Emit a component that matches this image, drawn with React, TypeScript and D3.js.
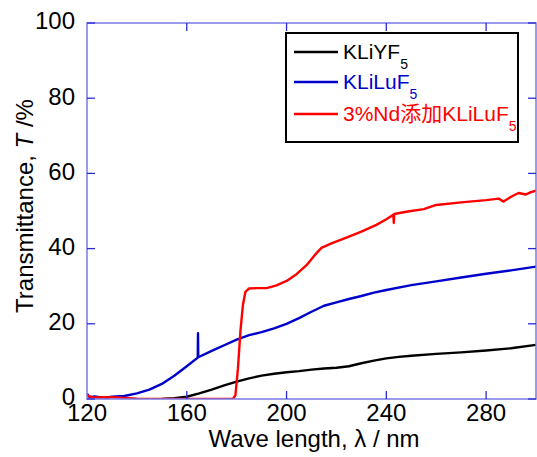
import React from "react"
import * as d3 from "d3"

// wavelength (nm), transmittance (%)
const kliyf: [number, number][] = [
    [150, 0], [155, 0.2], [160, 0.6], [165, 1.5], [170, 2.5], [175, 3.6], [180, 4.6],
    [185, 5.5], [190, 6.2], [195, 6.7], [200, 7.1], [205, 7.4], [210, 7.8], [215, 8.1],
    [220, 8.3], [225, 8.7], [230, 9.5], [235, 10.2], [240, 10.8], [245, 11.2], [250, 11.5],
    [260, 12.0], [270, 12.4], [280, 12.9], [290, 13.5], [300, 14.4]
]

const kliluf: [number, number][] = [
    [120, 1.4], [121, 0.5], [123, 0.7], [125, 0.5], [128, 0.4], [130, 0.6], [135, 0.8],
    [140, 1.5], [145, 2.5], [150, 4.0], [155, 6.2], [160, 8.7], [164.4, 11], [164.5, 17.5],
    [164.6, 11.1], [170, 12.8], [175, 14.3], [180, 15.8], [185, 17.0], [190, 17.8],
    [195, 18.8], [200, 20.0], [205, 21.5], [210, 23.2], [215, 24.8], [220, 25.7],
    [225, 26.6], [230, 27.4], [235, 28.3], [240, 29.0], [250, 30.3], [260, 31.3],
    [270, 32.3], [280, 33.3], [290, 34.2], [300, 35.2]
]

const ndKliluf: [number, number][] = [
    [120, 0.9], [122, 0.5], [125, 0.4], [130, 0.5], [135, 0.3], [140, 0.1], [150, 0],
    [160, 0], [170, 0], [178.5, 0], [179.5, 1], [180.5, 8], [181.5, 18], [182.5, 25],
    [183.5, 28.5], [185, 29.4], [188, 29.5], [192, 29.5], [196, 30.2], [200, 31.4],
    [204, 33.2], [208, 35.6], [212, 38.8], [214, 40.2], [218, 41.4], [224, 42.9],
    [230, 44.5], [236, 46.3], [240, 47.8], [242.8, 49.0], [243, 46.8], [243.2, 49.2],
    [248, 49.8], [255, 50.5], [260, 51.6], [270, 52.3], [280, 52.9], [285, 53.3],
    [287, 52.5], [290, 53.8], [293, 54.8], [296, 54.4], [298, 55.0], [300, 55.4]
]

const xTicks = [120, 160, 200, 240, 280]
const yTicks = [0, 20, 40, 60, 80, 100]

const series = [
    { name: "KLiYF", sub: "5", color: "#000000", data: kliyf },
    { name: "KLiLuF", sub: "5", color: "#0000cc", data: kliluf },
    { name: "3%Nd添加KLiLuF", sub: "5", color: "#ff0000", data: ndKliluf }
]

const font = "'Liberation Sans', Arial, 'Noto Sans CJK JP', sans-serif"

export default function App() {
    const width = 537
    const height = 457
    const left = 87, right = 536, top = 23, bottom = 399

    const x = d3.scaleLinear().domain([120, 300]).range([left, right])
    const y = d3.scaleLinear().domain([0, 100]).range([bottom, top])
    const line = d3.line<[number, number]>()
        .x(d => x(d[0]))
        .y(d => y(d[1]))

    const tickLen = 8
    const tickColor = "#2a2ad6"

    return (
        <svg width={width} height={height}
            style={{ position: "absolute", left: 0, top: 0, background: "#fff" }}
            fontFamily={font}>
            <defs>
                <clipPath id="plot">
                    <rect x={left} y={top - 5} width={right - left} height={bottom - top + 5} />
                </clipPath>
            </defs>

            {/* curves */}
            <g clipPath="url(#plot)">
                {series.map(s => (
                    <path key={s.name} d={line(s.data) || ""} fill="none"
                        stroke={s.color} strokeWidth={2.4} strokeLinejoin="round" />
                ))}
            </g>

            {/* frame */}
            <rect x={left} y={top} width={right - left} height={bottom - top}
                fill="none" stroke="#7a7ae8" strokeWidth={1.5} />

            {/* ticks */}
            {xTicks.filter(t => t > 120).map(t => (
                <g key={"xt" + t} stroke={tickColor} strokeWidth={1.3}>
                    <line x1={x(t)} x2={x(t)} y1={bottom} y2={bottom - tickLen} />
                    <line x1={x(t)} x2={x(t)} y1={top} y2={top + tickLen} />
                </g>
            ))}
            {yTicks.map(t => (
                <g key={"yt" + t} stroke={tickColor} strokeWidth={1.3}>
                    <line x1={left} x2={left + tickLen} y1={y(t)} y2={y(t)} />
                    <line x1={right} x2={right - tickLen} y1={y(t)} y2={y(t)} />
                </g>
            ))}

            {/* tick labels */}
            {xTicks.map(t => (
                <text key={"xl" + t} x={x(t)} y={421} textAnchor="middle"
                    fontSize={24} fill="#000">{t}</text>
            ))}
            {yTicks.map(t => (
                <text key={"yl" + t} x={75} y={y(t) - 2} dy="0.35em" textAnchor="end"
                    fontSize={24} fill="#000">{t}</text>
            ))}

            {/* axis titles */}
            <text x={314} y={447} textAnchor="middle" fontSize={24} fill="#000">
                Wave length, λ / nm
            </text>
            <text transform="translate(33,206) rotate(-90)" textAnchor="middle"
                fontSize={24} fill="#000">
                Transmittance, <tspan fontStyle="italic">T</tspan> /%
            </text>

            {/* legend */}
            <rect x={286} y={33} width={232} height={109} fill="#fff"
                stroke="#000" strokeWidth={2} />
            {series.map((s, i) => {
                const ly = [52, 82, 114][i]
                return (
                    <g key={"lg" + s.name}>
                        <line x1={294} x2={338} y1={ly} y2={ly}
                            stroke={s.color} strokeWidth={2.4} />
                        <text x={343} y={ly + 7} fontSize={21} fill={s.color}>
                            {s.name}
                            <tspan fontSize={14} dy={10}>{s.sub}</tspan>
                        </text>
                    </g>
                )
            })}
        </svg>
    )
}
